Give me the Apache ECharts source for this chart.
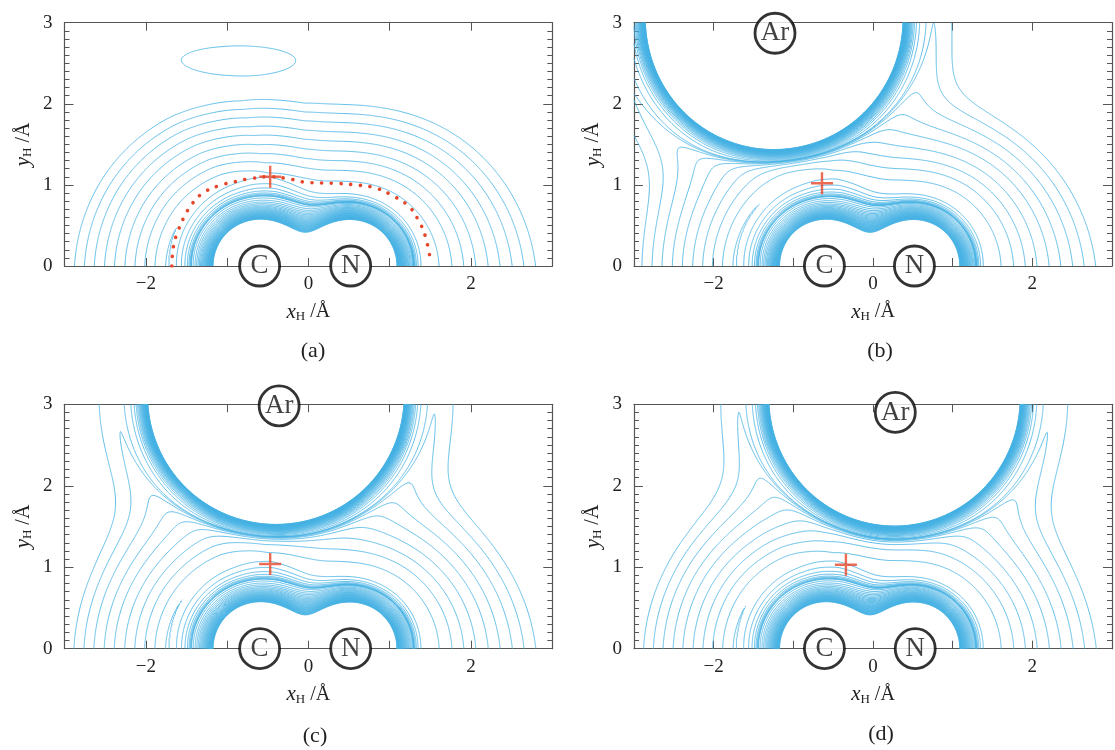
<!DOCTYPE html>
<html>
<head>
<meta charset="utf-8">
<script src="https://cdn.jsdelivr.net/npm/echarts@6/dist/echarts.min.js"></script>
<style>
  html, body { margin: 0; background: #fff; }
  #main { width: 1115px; height: 750px; }
</style>
</head>
<body>
<div id="main"></div>
<script>
// ---- values ----
const panelNames = ['(a)', '(b)', '(c)', '(d)'];
const atomC = [-0.60, 0];
const atomN = [0.52, 0];
// Ar centre and radius of its white core per panel (none in (a))
const arCentre = [null, [-1.24, 3.05], [-0.40, 3.10], [0.27, 3.08]];
const arRadius = [0, 1.62, 1.58, 1.58];
// labelled atoms per panel: [x, y, name]
const atomLabels = [
  [[-0.60, 0, 'C'], [0.52, 0, 'N']],
  [[-0.61, 0, 'C'], [0.52, 0, 'N'], [-1.23, 2.87, 'Ar']],
  [[-0.60, 0, 'C'], [0.52, 0, 'N'], [-0.36, 2.98, 'Ar']],
  [[-0.61, 0, 'C'], [0.53, 0, 'N'], [0.28, 2.90, 'Ar']]
];
const saddlePoints = [[-0.47, 1.10], [-0.64, 1.02], [-0.47, 1.04], [-0.34, 1.03]];
// red dotted minimum-energy path of panel (a)
const pathX = [-1.68, -1.66, -1.60, -1.52, -1.42, -1.28, -1.10, -0.90, -0.70, -0.47, -0.27, 0.00, 0.30, 0.58, 0.83, 1.03, 1.24, 1.36, 1.44, 1.50];
const pathY = [0.00, 0.24, 0.44, 0.62, 0.78, 0.91, 0.99, 1.04, 1.08, 1.10, 1.08, 1.03, 1.02, 1.00, 0.96, 0.87, 0.73, 0.55, 0.36, 0.07];
const yTickVals = [0, 1, 2, 3];

// surface model parameters (estimated from the contour shapes)
const molCentre = -0.05;
const valleyDist = [1.12, 0.90];            // valley distance, C side / N side
const depthAngle = [0, 40, 70, 87, 100, 111, 122, 132, 155, 180];
const depthValue = [1.12, 1.09, 1.05, 1.00, 0.93, 0.88, 0.93, 1.00, 1.07, 1.12];
const farValue = -0.24;
const decayAngle = [0, 90, 180];
const decayOut = [2.4, 3.3, 2.85];
const decayIn = 4.2;
const wallCN = [3.4, 10, 0.57];              // height, steepness, core distance
const arWall = [3.2, 16];
const arWell = [0.12, 2.2];                  // Ar attraction: depth, decay
const topLoop = [-0.92, 2.58, 1.3, 0.3, 0.030]; // x, y, sx, sy, depth (panel a only)

// contour levels
const wellLevels = [-1.10, -1.00, -0.78, -0.62, -0.51, -0.43, -0.372, -0.333, -0.305, -0.286, -0.2725];
const wallLevels = [-0.2, -0.1, 0.0, 0.1, 0.2, 0.3, 0.4, 0.5, 0.6, 0.7, 0.8, 0.9, 1.0, 1.1, 1.2, 1.3, 1.4, 1.5,
  1.6, 1.7, 1.8, 1.9, 2.0, 2.1, 2.2, 2.3, 2.4, 2.5, 2.6, 2.7, 2.8, 2.9, 3.0];
const levels = wellLevels.concat(wallLevels);

const XMIN = -3, XMAX = 3, YMIN = 0, YMAX = 3, STEP = 0.0125;

const SERIF = "'Liberation Serif', 'Times New Roman', serif";
const LINE = '#48b4e5';
const RED = '#e5472b';
const AXIS = '#555';

function interp(xs, ys, x) {
  if (x <= xs[0]) return ys[0];
  for (let i = 1; i < xs.length; i++) {
    if (x <= xs[i]) {
      const u = (x - xs[i - 1]) / (xs[i] - xs[i - 1]);
      return ys[i - 1] + u * (ys[i] - ys[i - 1]);
    }
  }
  return ys[ys.length - 1];
}

function potential(x, y, p) {
  const rC = Math.hypot(x - atomC[0], y - atomC[1]);
  const rN = Math.hypot(x - atomN[0], y - atomN[1]);
  const eC = Math.exp(-5.5 * rC), eN = Math.exp(-5.5 * rN);
  const rho = -Math.log(eC + eN) / 5.5;
  const w = eC / (eC + eN);
  const f = rho - (w * valleyDist[0] + (1 - w) * valleyDist[1]);
  const t = Math.atan2(y, x - molCentre) * 180 / Math.PI;
  const depth = interp(depthAngle, depthValue, t);
  const s = Math.sqrt(f * f + 0.0009);
  const a = f > 0 ? interp(decayAngle, decayOut, t) : decayIn;
  let v = farValue - (depth + farValue) * Math.exp(-a * s);
  v += wallCN[0] * Math.exp(-wallCN[1] * (rho - wallCN[2]));
  const ar = arCentre[p];
  if (ar) {
    const d = Math.hypot(x - ar[0], y - ar[1]) - arRadius[p];
    v += arWall[0] * Math.exp(-arWall[1] * d) - arWell[0] * Math.exp(-arWell[1] * Math.max(d, 0));
  } else {
    const gx = (x - topLoop[0]) / topLoop[2], gy = (y - topLoop[1]) / topLoop[3];
    const r2 = gx * gx + gy * gy;
    v -= topLoop[4] * Math.exp(-r2 * r2);
  }
  return v;
}

// marching squares, segments chained into polylines
const CASES = {
  1: [[3, 0]], 2: [[0, 1]], 3: [[3, 1]], 4: [[1, 2]], 6: [[0, 2]], 7: [[3, 2]],
  8: [[2, 3]], 9: [[0, 2]], 11: [[1, 2]], 12: [[1, 3]], 13: [[0, 1]], 14: [[3, 0]]
};

function contourPanel(p) {
  const nx = Math.round((XMAX - XMIN) / STEP) + 1;
  const ny = Math.round((YMAX - YMIN) / STEP) + 1;
  const val = new Float64Array(nx * ny);
  for (let j = 0; j < ny; j++) {
    for (let i = 0; i < nx; i++) {
      val[j * nx + i] = potential(XMIN + i * STEP, YMIN + j * STEP, p);
    }
  }
  const store = levels.map(() => ({ a: [], b: [], pts: new Map() }));

  for (let j = 0; j < ny - 1; j++) {
    for (let i = 0; i < nx - 1; i++) {
      const v0 = val[j * nx + i], v1 = val[j * nx + i + 1];
      const v2 = val[(j + 1) * nx + i + 1], v3 = val[(j + 1) * nx + i];
      const mn = Math.min(v0, v1, v2, v3), mx = Math.max(v0, v1, v2, v3);
      for (let k = 0; k < levels.length; k++) {
        const L = levels[k];
        if (L <= mn) continue;
        if (L > mx) break;
        const c = (v0 > L ? 1 : 0) | (v1 > L ? 2 : 0) | (v2 > L ? 4 : 0) | (v3 > L ? 8 : 0);
        let segs = CASES[c];
        if (c === 5 || c === 10) {
          const centreHigh = (v0 + v1 + v2 + v3) / 4 > L;
          if (c === 5) segs = centreHigh ? [[0, 1], [2, 3]] : [[3, 0], [1, 2]];
          else segs = centreHigh ? [[3, 0], [1, 2]] : [[0, 1], [2, 3]];
        }
        if (!segs) continue;
        const st = store[k];
        const edgeId = e => {
          let id, xy;
          if (e === 0) { id = (j * nx + i) * 2; xy = [XMIN + (i + (L - v0) / (v1 - v0)) * STEP, YMIN + j * STEP]; }
          else if (e === 1) { id = (j * nx + i + 1) * 2 + 1; xy = [XMIN + (i + 1) * STEP, YMIN + (j + (L - v1) / (v2 - v1)) * STEP]; }
          else if (e === 2) { id = ((j + 1) * nx + i) * 2; xy = [XMIN + (i + (L - v3) / (v2 - v3)) * STEP, YMIN + (j + 1) * STEP]; }
          else { id = (j * nx + i) * 2 + 1; xy = [XMIN + i * STEP, YMIN + (j + (L - v0) / (v3 - v0)) * STEP]; }
          if (!st.pts.has(id)) st.pts.set(id, xy);
          return id;
        };
        for (const sg of segs) {
          st.a.push(edgeId(sg[0]));
          st.b.push(edgeId(sg[1]));
        }
      }
    }
  }

  const lines = [];
  store.forEach(st => {
    const n = st.a.length;
    const adj = new Map();
    for (let s = 0; s < n; s++) {
      [st.a[s], st.b[s]].forEach(id => {
        if (!adj.has(id)) adj.set(id, []);
        adj.get(id).push(s);
      });
    }
    const used = new Uint8Array(n);
    const extend = chain => {
      let cur = chain[chain.length - 1];
      for (;;) {
        const nb = adj.get(cur);
        let nxt = -1;
        for (const s of nb) if (!used[s]) { nxt = s; break; }
        if (nxt < 0) break;
        used[nxt] = 1;
        cur = st.a[nxt] === cur ? st.b[nxt] : st.a[nxt];
        chain.push(cur);
      }
    };
    for (let s = 0; s < n; s++) {
      if (used[s]) continue;
      used[s] = 1;
      const chain = [st.a[s], st.b[s]];
      extend(chain);
      chain.reverse();
      extend(chain);
      lines.push({ coords: chain.map(id => st.pts.get(id)) });
    }
  });
  return lines;
}

// ---- layout ----
const grids = [
  { left: 64.5, top: 22.7, width: 487.8, height: 243.3 },
  { left: 634, top: 22.7, width: 489, height: 243.3 },
  { left: 64.5, top: 404.3, width: 487.8, height: 244.4 },
  { left: 634, top: 404.3, width: 489, height: 244.4 }
];
const captionPos = [[313, 351], [880, 351], [315, 736], [881, 734]];

const nameRich = {
  i: { fontFamily: SERIF, fontSize: 21, fontStyle: 'italic', color: '#222' },
  s: { fontFamily: SERIF, fontSize: 13, color: '#222', padding: [9, 0, 0, 0] },
  n: { fontFamily: SERIF, fontSize: 20, color: '#222' }
};
const fmtX = v => (v % 2 === 0 ? (v < 0 ? '\u2212' + (-v) : String(v)) : '');

const xAxes = [], yAxes = [], series = [];
grids.forEach((g, p) => {
  const common = {
    gridIndex: p, type: 'value', min: XMIN, max: XMAX, interval: 1,
    axisLine: { onZero: false, lineStyle: { color: AXIS, width: 1.2 } },
    axisTick: { inside: true, length: 8, lineStyle: { color: AXIS } },
    splitLine: { show: false }
  };
  xAxes.push(Object.assign({}, common, {
    position: 'bottom',
    axisLabel: { formatter: fmtX, fontFamily: SERIF, fontSize: 19, color: '#222', margin: 9 },
    name: '{i|x}{s|H}{n| /\u00c5}', nameLocation: 'middle', nameGap: 35,
    nameTextStyle: { rich: nameRich }
  }));
  xAxes.push(Object.assign({}, common, { position: 'top', axisLabel: { show: false } }));

  const ycommon = {
    gridIndex: p, type: 'value', min: YMIN, max: YMAX, interval: 1,
    axisLine: { onZero: false, lineStyle: { color: AXIS, width: 1.2 } },
    axisTick: { inside: true, length: 9, lineStyle: { color: AXIS } },
    minorTick: { show: true, splitNumber: 10, length: 5, lineStyle: { color: AXIS } },
    splitLine: { show: false }
  };
  yAxes.push(Object.assign({}, ycommon, {
    position: 'left',
    axisLabel: { formatter: v => (yTickVals.includes(v) ? String(v) : ''), fontFamily: SERIF, fontSize: 19, color: '#222', margin: 12 },
    name: '{i|y}{s|H}{n| /\u00c5}', nameLocation: 'middle', nameGap: 30, nameRotate: 90,
    nameTextStyle: { rich: nameRich }
  }));
  yAxes.push(Object.assign({}, ycommon, { position: 'right', axisLabel: { show: false } }));

  const xi = p * 2, yi = p * 2;
  series.push({
    type: 'lines', coordinateSystem: 'cartesian2d', xAxisIndex: xi, yAxisIndex: yi,
    polyline: true, silent: true, z: 2,
    lineStyle: { color: LINE, width: 0.85, opacity: 1 },
    data: contourPanel(p)
  });
  if (p === 0) {
    series.push({
      type: 'line', xAxisIndex: xi, yAxisIndex: yi, smooth: true, symbol: 'none', z: 3,
      lineStyle: { color: RED, width: 3.6, type: [0.1, 9.6], cap: 'round' },
      data: pathX.map((x, k) => [x, pathY[k]])
    });
  }
  series.push({
    type: 'scatter', xAxisIndex: xi, yAxisIndex: yi, z: 4, silent: true,
    symbol: 'path://M-1.2,-11H1.2V-1.2H11V1.2H1.2V11H-1.2V1.2H-11V-1.2H-1.2Z',
    symbolSize: 22, itemStyle: { color: RED },
    data: [saddlePoints[p]]
  });
  series.push({
    type: 'scatter', xAxisIndex: xi, yAxisIndex: yi, z: 5, clip: false, silent: true,
    symbol: 'circle', symbolSize: 40,
    itemStyle: { color: '#fff', borderColor: '#000', borderWidth: 2.8 },
    label: {
      show: true, position: 'inside', formatter: d => d.value[2],
      fontFamily: SERIF, fontSize: 27, color: '#111'
    },
    data: atomLabels[p]
  });
});

const chart = echarts.init(document.getElementById('main'), null, { renderer: 'canvas' });
chart.setOption({
  animation: false,
  backgroundColor: '#fff',
  grid: grids.map(g => Object.assign({ containLabel: false }, g)),
  xAxis: xAxes,
  yAxis: yAxes,
  series: series,
  graphic: panelNames.map((t, p) => ({
    type: 'text', x: captionPos[p][0], y: captionPos[p][1],
    style: { text: t, font: '22px ' + SERIF, fill: '#222', align: 'center', verticalAlign: 'middle' }
  }))
});
</script>
</body>
</html>
